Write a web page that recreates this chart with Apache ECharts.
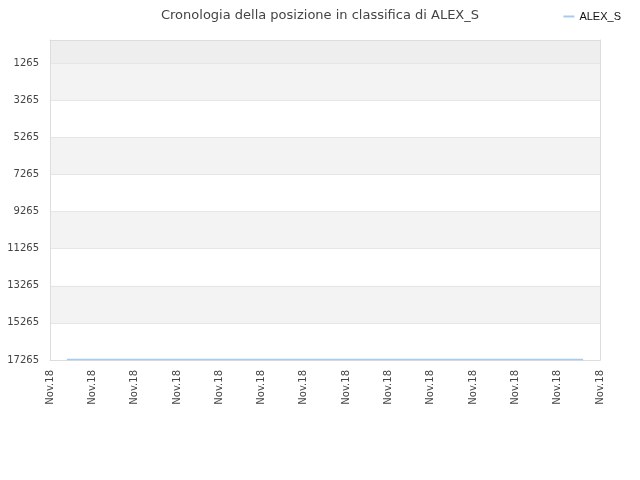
<!DOCTYPE html>
<html>
<head>
<meta charset="utf-8">
<script src="https://cdn.jsdelivr.net/npm/echarts@6/dist/echarts.min.js"></script>
<style>html,body{margin:0;padding:0;background:#fff}#c{width:640px;height:480px}</style>
</head>
<body>
<div id="c"></div>
<script>
var titleText = 'Cronologia della posizione in classifica di ALEX_S';
var seriesName = 'ALEX_S';
var xTickLabels = ['Nov.18','Nov.18','Nov.18','Nov.18','Nov.18','Nov.18','Nov.18','Nov.18','Nov.18','Nov.18','Nov.18','Nov.18','Nov.18','Nov.18'];
var xPos = [0.4, 12.6];
var rankValues = [17240, 17240];
var yTicks = [1265, 3265, 5265, 7265, 9265, 11265, 13265, 15265, 17265];
var yMin = 25, yMax = 17265;
var shadedBands = [[yMin, 1265, '#eeeeee'], [1265, 3265, '#f3f3f3'], [5265, 7265, '#f3f3f3'], [9265, 11265, '#f3f3f3'], [13265, 15265, '#f3f3f3']];

var chart = echarts.init(document.getElementById('c'), null, {renderer: 'canvas'});
var data = xPos.map(function (x, i) { return [x, rankValues[i]]; });
var borderLine = {show: true, onZero: false, lineStyle: {color: '#dddddd', width: 1}};
chart.setOption({
  animation: false,
  backgroundColor: '#ffffff',
  title: {
    text: titleText, left: 'center', top: 4,
    textStyle: {fontFamily: 'DejaVu Sans', fontSize: 13, fontWeight: 'normal', color: '#444'}
  },
  legend: {
    right: 14, top: 6, itemWidth: 11, itemHeight: 2, itemGap: 6,
    textStyle: {fontFamily: 'Liberation Sans', fontSize: 11, color: '#111'},
    data: [{name: seriesName, icon: 'rect'}]
  },
  grid: {left: 50, right: 40, top: 40, bottom: 120, show: false},
  xAxis: [{
    type: 'value', min: 0, max: xTickLabels.length - 1, interval: 1, zlevel: 1,
    axisLine: borderLine,
    axisTick: {show: false},
    splitLine: {show: false},
    axisLabel: {
      rotate: 90, margin: 10, fontFamily: 'DejaVu Sans', fontSize: 10, color: '#444',
      formatter: function (v) { return xTickLabels[Math.round(v)] || ''; }
    }
  }, {
    type: 'value', position: 'top', min: 0, max: xTickLabels.length - 1, zlevel: 1,
    axisLine: borderLine, axisTick: {show: false}, axisLabel: {show: false}, splitLine: {show: false}
  }],
  yAxis: [{
    type: 'value', inverse: true, min: yMin, max: yMax, zlevel: 1,
    axisLine: borderLine,
    axisTick: {show: false, customValues: yTicks},
    axisLabel: {customValues: yTicks, fontFamily: 'DejaVu Sans', fontSize: 10, color: '#444', margin: 11,
      formatter: function (v) { return String(v); }},
    splitLine: {show: true, lineStyle: {color: '#e6e6e6'}}
  }, {
    type: 'value', position: 'right', inverse: true, min: yMin, max: yMax, zlevel: 1,
    axisLine: borderLine, axisTick: {show: false}, axisLabel: {show: false}, splitLine: {show: false}
  }],
  series: [{
    name: seriesName, type: 'line', data: data, symbol: 'none',
    xAxisIndex: 0, yAxisIndex: 0, zlevel: 2,
    lineStyle: {color: '#a8cbf0', width: 1.5},
    itemStyle: {color: '#a8cbf0'},
    markArea: {
      silent: true,
      data: shadedBands.map(function (b) {
        return [{yAxis: b[0], itemStyle: {color: b[2]}}, {yAxis: b[1]}];
      })
    }
  }]
});
</script>
</body>
</html>
